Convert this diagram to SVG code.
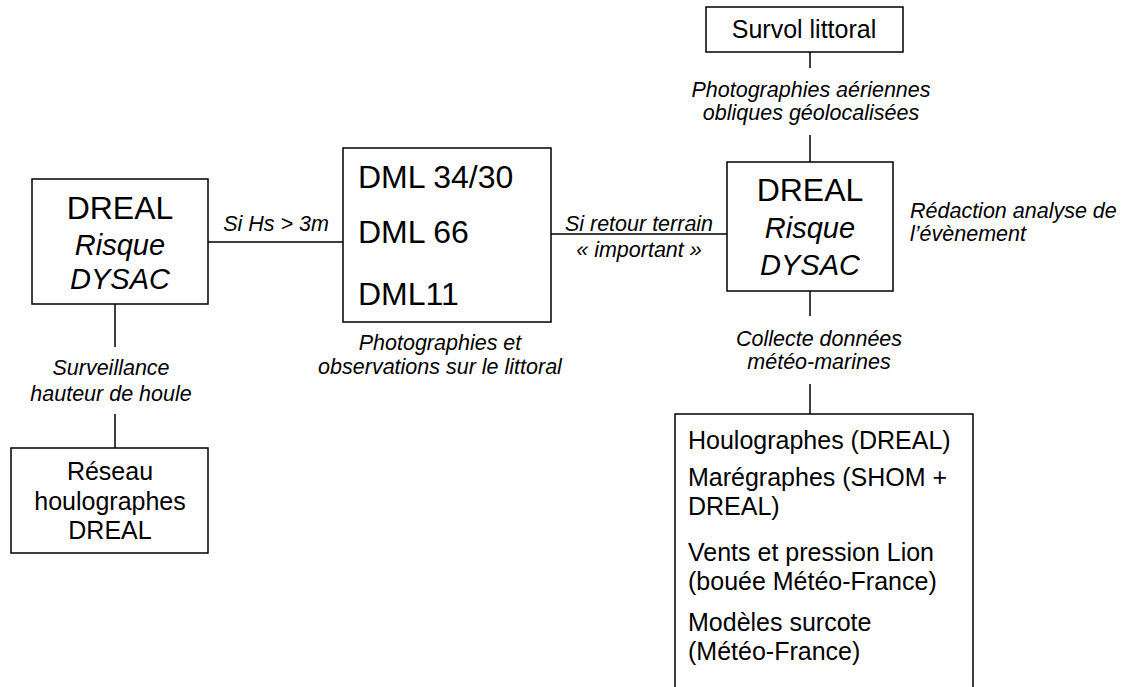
<svg xmlns="http://www.w3.org/2000/svg" width="1127" height="687" viewBox="0 0 1127 687">
<style>
.box{fill:#fff;stroke:#000;stroke-width:1.5}
.ln{stroke:#000;stroke-width:1.5;fill:none}
text{font-family:"Liberation Sans",Arial,sans-serif;fill:#000}
.big{font-size:32px}
.mid{font-size:29px;font-style:italic}
.reg{font-size:25px}
.lst{font-size:25px}
.lab{font-size:21.5px;font-style:italic}
.c{text-anchor:middle}
</style>
<rect width="1127" height="687" fill="#fff"/>
<g id="connectors">
<line class="ln" x1="208" y1="242" x2="343" y2="242"/>
<line class="ln" x1="551" y1="234" x2="727" y2="234"/>
<line class="ln" x1="115" y1="304" x2="115" y2="347"/>
<line class="ln" x1="115" y1="414" x2="115" y2="448"/>
<line class="ln" x1="810" y1="52" x2="810" y2="68"/>
<line class="ln" x1="810" y1="135" x2="810" y2="162"/>
<line class="ln" x1="810" y1="291" x2="810" y2="316"/>
<line class="ln" x1="810" y1="384" x2="810" y2="414"/>
<text class="lab c" x="276" y="231">Si Hs &gt; 3m</text>
<text class="lab c" x="639" y="231">Si retour terrain</text>
<text class="lab c" x="639" y="257">« important »</text>
<text class="lab c" x="111" y="375">Surveillance</text>
<text class="lab c" x="111" y="401">hauteur de houle</text>
<text class="lab c" x="440" y="350">Photographies et</text>
<text class="lab c" x="440" y="374">observations sur le littoral</text>
<text class="lab c" x="811" y="97">Photographies aériennes</text>
<text class="lab c" x="811" y="120">obliques géolocalisées</text>
<text class="lab" x="910" y="218">Rédaction analyse de</text>
<text class="lab" x="910" y="241">l’évènement</text>
<text class="lab c" x="819" y="346">Collecte données</text>
<text class="lab c" x="819" y="369">météo-marines</text>
</g>
<g id="dreal-left">
<rect class="box" x="32" y="179" width="176" height="125"/>
<text class="big c" x="120" y="219">DREAL</text>
<text class="mid c" x="120" y="255">Risque</text>
<text class="mid c" x="120" y="289">DYSAC</text>
</g>
<g id="dml">
<rect class="box" x="343" y="148" width="208" height="174"/>
<text class="big" x="358" y="188">DML 34/30</text>
<text class="big" x="358" y="243">DML 66</text>
<text class="big" x="358" y="305">DML11</text>
</g>
<g id="dreal-right">
<rect class="box" x="727" y="162" width="166" height="129"/>
<text class="big c" x="810" y="201">DREAL</text>
<text class="mid c" x="810" y="238">Risque</text>
<text class="mid c" x="810" y="275">DYSAC</text>
</g>
<g id="survol">
<rect class="box" x="706" y="7" width="197" height="45"/>
<text class="reg c" x="804" y="38">Survol littoral</text>
</g>
<g id="reseau">
<rect class="box" x="11" y="448" width="197" height="105"/>
<text class="reg c" x="110" y="480">Réseau</text>
<text class="reg c" x="110" y="510">houlographes</text>
<text class="reg c" x="110" y="539">DREAL</text>
</g>
<g id="donnees">
<rect class="box" x="675" y="414" width="298" height="290"/>
<text class="lst" x="688" y="449">Houlographes (DREAL)</text>
<text class="lst" x="688" y="486">Marégraphes (SHOM +</text>
<text class="lst" x="688" y="515">DREAL)</text>
<text class="lst" x="688" y="561">Vents et pression Lion</text>
<text class="lst" x="688" y="590">(bouée Météo-France)</text>
<text class="lst" x="688" y="631">Modèles surcote</text>
<text class="lst" x="688" y="660">(Météo-France)</text>
</g>
</svg>
